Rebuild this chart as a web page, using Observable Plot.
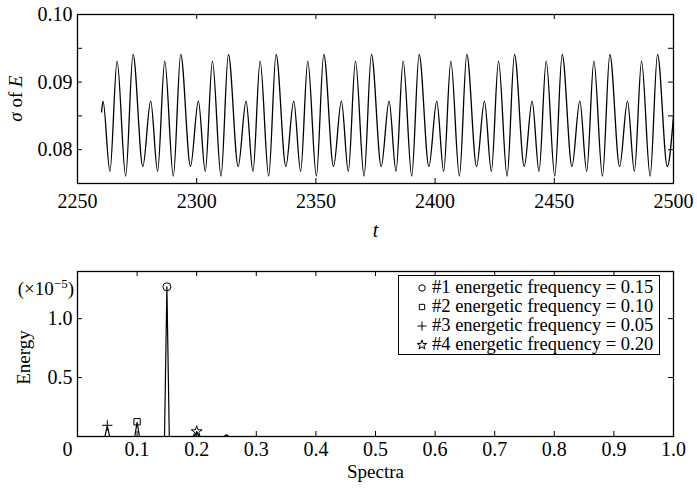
<!DOCTYPE html>
<html>
<head>
<meta charset="utf-8">
<script src="https://cdn.jsdelivr.net/npm/d3@7"></script>
<script src="https://cdn.jsdelivr.net/npm/@observablehq/plot@0.6"></script>
<style>
  body { margin: 0; background: #fff; }
  #wrap { position: relative; width: 697px; height: 492px; font-family: "Liberation Serif", "Times New Roman", serif; color: #000; }
  #wrap svg { display: block; }
  .legend { position: absolute; left: 398px; top: 275px; width: 262px; height: 80px; box-sizing: border-box;
            border: 1px solid #000; background: #fff; padding-top: 2px; font-size: 18.5px; }
  .legend .row { display: flex; align-items: center; height: 19px; white-space: nowrap; }
  .legend .row svg { margin-left: 17px; margin-right: 4px; }
</style>
</head>
<body>
<div id="wrap"></div>
<script>
// ---------- Top panel: sigma of E vs t (extrema) ----------
const sigmaT = [
  2260.1, 2260.7, 2263.6, 2266.6, 2270.2, 2273.3, 2277.4,
  2280.7, 2283.6, 2286.6, 2290.2, 2293.3, 2297.4,
  2300.7, 2303.6, 2306.6, 2310.2, 2313.3, 2317.4,
  2320.7, 2323.6, 2326.6, 2330.2, 2333.3, 2337.4,
  2340.7, 2343.6, 2346.6, 2350.2, 2353.3, 2357.4,
  2360.7, 2363.6, 2366.6, 2370.2, 2373.3, 2377.4,
  2380.7, 2383.6, 2386.6, 2390.2, 2393.3, 2397.4,
  2400.7, 2403.6, 2406.6, 2410.2, 2413.3, 2417.4,
  2420.7, 2423.6, 2426.6, 2430.2, 2433.3, 2437.4,
  2440.7, 2443.6, 2446.6, 2450.2, 2453.3, 2457.4,
  2460.7, 2463.6, 2466.6, 2470.2, 2473.3, 2477.4,
  2480.7, 2483.6, 2486.6, 2490.2, 2493.3, 2497.4,
  2500.0
];
const sigmaE = [
  0.0856, 0.0872, 0.0768, 0.0931, 0.0761, 0.0941, 0.0775,
  0.0872, 0.0768, 0.0931, 0.0761, 0.0941, 0.0775,
  0.0872, 0.0768, 0.0931, 0.0761, 0.0941, 0.0775,
  0.0872, 0.0768, 0.0931, 0.0761, 0.0941, 0.0775,
  0.0872, 0.0768, 0.0931, 0.0761, 0.0941, 0.0775,
  0.0872, 0.0768, 0.0931, 0.0761, 0.0941, 0.0775,
  0.0872, 0.0768, 0.0931, 0.0761, 0.0941, 0.0775,
  0.0872, 0.0768, 0.0931, 0.0761, 0.0941, 0.0775,
  0.0872, 0.0768, 0.0931, 0.0761, 0.0941, 0.0775,
  0.0872, 0.0768, 0.0931, 0.0761, 0.0941, 0.0775,
  0.0872, 0.0768, 0.0931, 0.0761, 0.0941, 0.0775,
  0.0872, 0.0768, 0.0931, 0.0761, 0.0941, 0.0775,
  0.0850
];
const tTicks = [2250, 2300, 2350, 2400, 2450, 2500];
const tInnerTicks = [2300, 2350, 2400, 2450];
const sigmaTicks = [0.08, 0.09, 0.10];
const sigmaInnerTicks = [0.08, 0.085, 0.09, 0.095];

// ---------- Bottom panel: energy spectrum (x 1e-5) ----------
const specFreq   = [0, 0.046, 0.05, 0.054, 0.096, 0.10, 0.104, 0.146, 0.15, 0.154, 0.196, 0.20, 0.204, 0.246, 0.25, 0.254, 1.0];
const specEnergy = [0, 0,     0.09, 0,     0,     0.12, 0,     0,     1.27, 0,     0,     0.04, 0,     0,     0.015, 0,    0];
const peakFreq   = [0.15, 0.10, 0.05, 0.20];
const peakEnergy = [1.27, 0.125, 0.095, 0.042];
const peakSymbol = ["circle", "square", "plus", "star"];
const legendLabels = [
  "#1 energetic frequency = 0.15",
  "#2 energetic frequency = 0.10",
  "#3 energetic frequency = 0.05",
  "#4 energetic frequency = 0.20"
];
const fTicks = [0.1, 0.2, 0.3, 0.4, 0.5, 0.6, 0.7, 0.8, 0.9, 1.0];
const fInnerTicks = [0.1, 0.2, 0.3, 0.4, 0.5, 0.6, 0.7, 0.8, 0.9];
const energyTicks = [0.5, 1.0];

const serif = '"Liberation Serif", "Times New Roman", serif';
const W = 697, ML = 77, MR = 24;
const FW = W - ML - MR;
const axisFont = {fontFamily: serif, fontSize: 20};

// ---- top chart
const topH = 255, topMT = 14, topMB = 72, topFH = topH - topMT - topMB;
const sigmaData = sigmaT.map((t, i) => ({t, v: sigmaE[i]}));
const topChart = Plot.plot({
  width: W, height: topH, marginTop: topMT, marginBottom: topMB, marginLeft: ML, marginRight: MR,
  style: {fontFamily: serif, fontSize: "19px", color: "black", background: "white", overflow: "visible"},
  x: {domain: [2250, 2500]},
  y: {domain: [0.075, 0.10]},
  marks: [
    Plot.line(sigmaData, {x: "t", y: "v", curve: "monotone-x", stroke: "black", strokeWidth: 1.3}),
    Plot.tickX(tInnerTicks, {x: d => d, stroke: "black", insetTop: topFH - 5}),
    Plot.tickX(tInnerTicks, {x: d => d, stroke: "black", insetBottom: topFH - 5}),
    Plot.tickY(sigmaInnerTicks, {y: d => d, stroke: "black", insetRight: FW - 5}),
    Plot.tickY(sigmaInnerTicks, {y: d => d, stroke: "black", insetLeft: FW - 5}),
    Plot.frame({stroke: "black", strokeWidth: 1.3}),
    Plot.axisX({ticks: tTicks, tickSize: 0, tickPadding: 10, label: null, tickFormat: d => String(d), ...axisFont}),
    Plot.axisY({ticks: sigmaTicks, tickSize: 0, tickPadding: 5, label: null, tickFormat: d3.format(".2f"), ...axisFont}),
    Plot.text(["t"], {frameAnchor: "bottom", dy: 53, fontStyle: "italic", fontSize: 20, fontFamily: serif})
  ]
});

// ---- bottom chart
const botH = 237, botMT = 16, botMB = 56, botFH = botH - botMT - botMB;
const specData = specFreq.map((f, i) => ({f, e: specEnergy[i]}));
const peaks = peakFreq.map((f, i) => ({f, e: peakEnergy[i], s: peakSymbol[i]}));
const bottomChart = Plot.plot({
  width: W, height: botH, marginTop: botMT, marginBottom: botMB, marginLeft: ML, marginRight: MR,
  style: {fontFamily: serif, fontSize: "19px", color: "black", background: "white", overflow: "visible"},
  x: {domain: [0, 1]},
  y: {domain: [0, 1.4]},
  marks: [
    Plot.line(specData, {x: "f", y: "e", stroke: "black", strokeWidth: 1.2}),
    Plot.tickX(fInnerTicks, {x: d => d, stroke: "black", insetTop: botFH - 5}),
    Plot.tickX(fInnerTicks, {x: d => d, stroke: "black", insetBottom: botFH - 5}),
    Plot.tickY(energyTicks, {y: d => d, stroke: "black", insetRight: FW - 5}),
    Plot.tickY(energyTicks, {y: d => d, stroke: "black", insetLeft: FW - 5}),
    Plot.frame({stroke: "black", strokeWidth: 1.3}),
    Plot.dot(peaks.filter(d => d.s === "circle"), {x: "f", y: "e", symbol: "circle", r: 4, stroke: "black", strokeWidth: 1, fill: "none"}),
    Plot.dot(peaks.filter(d => d.s === "square"), {x: "f", y: "e", symbol: "square", r: 3.6, stroke: "black", strokeWidth: 1, fill: "none"}),
    Plot.dot(peaks.filter(d => d.s === "plus"), {x: "f", y: "e", symbol: "plus", r: 3.4, stroke: "black", strokeWidth: 1, fill: "none"}),
    Plot.dot(peaks.filter(d => d.s === "star"), {x: "f", y: "e", symbol: "star", r: 3.4, stroke: "black", strokeWidth: 1, fill: "none"}),
    Plot.axisX({ticks: [0], tickSize: 0, tickPadding: 5, label: null, dx: -10, tickFormat: () => "0", ...axisFont}),
    Plot.axisX({ticks: fTicks, tickSize: 0, tickPadding: 5, label: null, tickFormat: d3.format(".1f"), ...axisFont}),
    Plot.axisY({ticks: energyTicks, tickSize: 0, tickPadding: 5, label: null, tickFormat: d3.format(".1f"), ...axisFont}),
    Plot.text(["Spectra"], {frameAnchor: "bottom", dy: 41, fontFamily: serif, fontSize: 19})
  ]
});

// y label with mixed italics on top chart
{
  const t = d3.select(topChart).append("text")
    .attr("transform", `translate(22,${topMT + topFH / 2}) rotate(-90)`)
    .attr("text-anchor", "middle")
    .attr("font-family", serif).attr("font-size", 19).attr("fill", "black");
  t.append("tspan").attr("font-style", "italic").text("σ");
  t.append("tspan").text(" of ");
  t.append("tspan").attr("font-style", "italic").text("E");
}
// "Energy" y label and (×10^-5) multiplier on bottom chart
{
  d3.select(bottomChart).append("text")
    .attr("transform", `translate(30,${botMT + botFH / 2 + 4}) rotate(-90)`)
    .attr("text-anchor", "middle")
    .attr("font-family", serif).attr("font-size", 19).attr("fill", "black")
    .text("Energy");
  const t = d3.select(bottomChart).append("text")
    .attr("x", 74).attr("y", 40)
    .attr("text-anchor", "end")
    .attr("font-family", serif).attr("font-size", 19).attr("fill", "black");
  t.append("tspan").text("(×10");
  t.append("tspan").attr("dy", -7).attr("font-size", 13).text("−5");
  t.append("tspan").attr("dy", 7).text(")");
}

const wrap = document.getElementById("wrap");
wrap.appendChild(topChart);
wrap.appendChild(bottomChart);

// legend
const legend = d3.select(wrap).append("div").attr("class", "legend");
const sizes = {circle: 3.2, square: 3.0, plus: 3.0, star: 3.0};
peakSymbol.forEach((s, i) => {
  const row = legend.append("div").attr("class", "row");
  const sv = row.append("svg").attr("width", 12).attr("height", 12).attr("viewBox", "-6 -6 12 12");
  const sym = {circle: d3.symbolCircle, square: d3.symbolSquare, plus: d3.symbolPlus, star: d3.symbolStar}[s];
  sv.append("path").attr("d", d3.symbol(sym, Math.PI * sizes[s] * sizes[s])())
    .attr("fill", "none").attr("stroke", "black").attr("stroke-width", 1);
  row.append("span").text(legendLabels[i]);
});
</script>
</body>
</html>
